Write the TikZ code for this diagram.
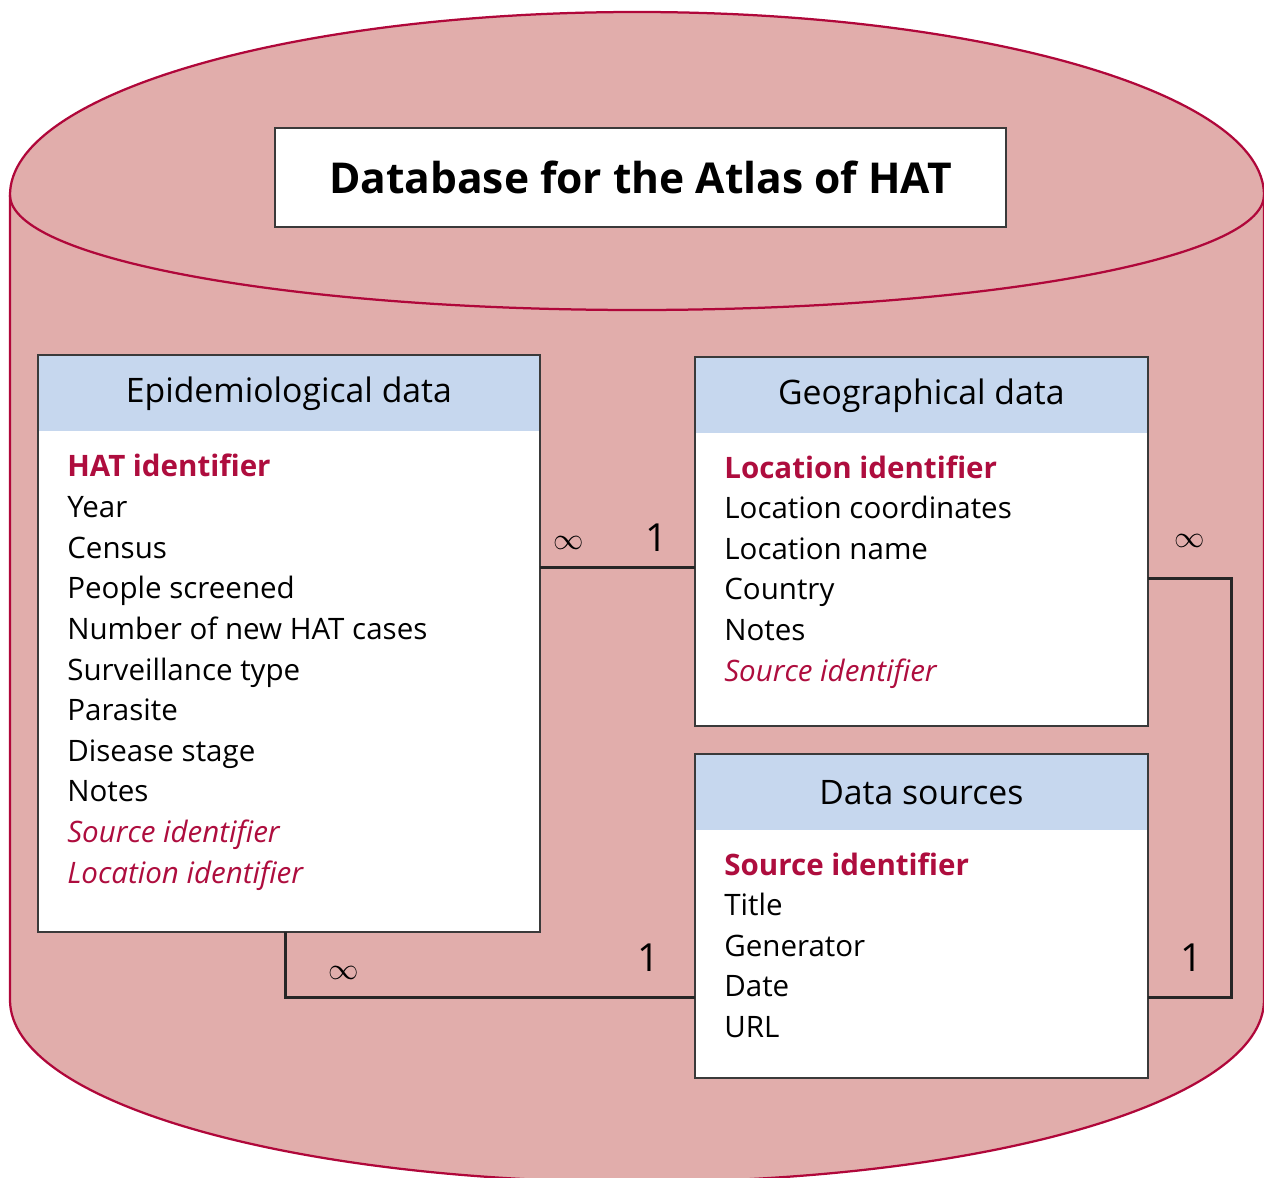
\documentclass[tikz,border=0pt]{standalone}
\usepackage{fontspec}
\setmainfont{Open Sans}
\usetikzlibrary{positioning}
\definecolor{cylfill}{HTML}{E1ADAB}
\definecolor{cylline}{HTML}{B0073A}
\definecolor{keyred}{HTML}{AE0D3E}
\definecolor{headblue}{HTML}{C6D7EE}
\definecolor{boxline}{HTML}{3A3A3A}
\newcommand\keyfield{\bfseries\color{keyred}}
\newcommand\linkfield{\itshape\color{keyred}}
\tikzset{
  cyl/.style={fill=cylfill, draw=cylline, line width=0.45mm},
  tablebox/.style={fill=white, anchor=north west, inner sep=0pt},
  frame/.style={draw=boxline, line width=0.4mm},
  headbox/.style={fill=headblue, anchor=north west, inner sep=0pt, minimum height=15.2mm,
    font=\fontsize{19.2}{22}\selectfont},
  titlebox/.style={fill=white, draw=boxline, line width=0.4mm, inner sep=0pt,
    font=\fontsize{24.2}{29}\selectfont\bfseries},
  field/.style={anchor=base west, inner sep=0pt, font=\fontsize{16.8}{20}\selectfont},
  link/.style={draw=black!85, line width=0.6mm},
  many/.style={inner sep=0pt, font=\fontsize{18.5}{18.5}\selectfont},
  one/.style={inner sep=0pt, font=\fontsize{22}{22}\selectfont}
}
\begin{document}
\begin{tikzpicture}[x=0.2mm,y=-0.2mm]
\useasboundingbox (0,0) rectangle (1264,1178);

% the cylinder
\filldraw[cyl] (10,195) -- (10,1000) .. controls (10,1102) and (291,1182) .. (637,1182)
  .. controls (983,1182) and (1264,1102) .. (1264,1000) -- (1264,195)
  .. controls (1264,94) and (983,12) .. (637,12)
  .. controls (291,12) and (10,94) .. (10,195) -- cycle;
\draw[cyl, fill=none] (10,195) .. controls (10,259) and (291,310) .. (637,310)
  .. controls (983,310) and (1264,259) .. (1264,195);

\node[titlebox, minimum width=146.2mm, minimum height=19.8mm] (title) at (640.5,177.5)
  {Database for the Atlas of HAT};

% epidemiological table
\node[tablebox, minimum width=100.2mm, minimum height=115.2mm] (epi) at (38,355) {};
\node[headbox, minimum width=100.2mm] (epihead) at (epi.north west) {Epidemiological data};
\draw[frame] (epi.north west) rectangle (epi.south east);
\foreach \txt [count=\i] in {{\keyfield HAT identifier}, Year, Census, People screened,
    Number of new HAT cases, Surveillance type, Parasite, Disease stage, Notes,
    {\linkfield Source identifier}, {\linkfield Location identifier}}
  \node[field] (epi-\i) at (67,{477+40.6*(\i-1)}) {\txt};

% geographical table
\node[tablebox, minimum width=90.4mm, minimum height=73.6mm] (geo) at (695,357) {};
\node[headbox, minimum width=90.4mm] (geohead) at (geo.north west) {Geographical data};
\draw[frame] (geo.north west) rectangle (geo.south east);
\foreach \txt [count=\i] in {{\keyfield Location identifier}, Location coordinates,
    Location name, Country, Notes, {\linkfield Source identifier}}
  \node[field] (geo-\i) at (724,{478+40.6*(\i-1)}) {\txt};

% sources table
\node[tablebox, minimum width=90.4mm, minimum height=64.6mm] (src) at (695,754) {};
\node[headbox, minimum width=90.4mm] (srchead) at (src.north west) {Data sources};
\draw[frame] (src.north west) rectangle (src.south east);
\foreach \txt [count=\i] in {{\keyfield Source identifier}, Title, Generator, Date, URL}
  \node[field] (src-\i) at (724,{875+40.6*(\i-1)}) {\txt};

% links
\coordinate (geoleft) at ([yshift=-5.2mm]geo.west);
\coordinate (georight) at ([yshift=-7.4mm]geo.east);
\coordinate (srcleft) at ([yshift=-16.3mm]src.west);
\coordinate (srcright) at ([yshift=-16.3mm]src.east);
\draw[link] (geoleft -| epi.east) -- (geoleft);
\draw[link] (georight) -- ++(16.8mm,0) |- (srcright);
\draw[link] ([xshift=-0.7mm]epi.south) |- (srcleft);

\node[many] (m1) at (569,543) {$\infty$};
\node[one] (o1) at (657,538) {1};
\node[many] (m2) at (1190,541) {$\infty$};
\node[one] (o2) at (1192,958) {1};
\node[many] (m3) at (344,973) {$\infty$};
\node[one] (o3) at (649,958) {1};
\end{tikzpicture}
\end{document}
